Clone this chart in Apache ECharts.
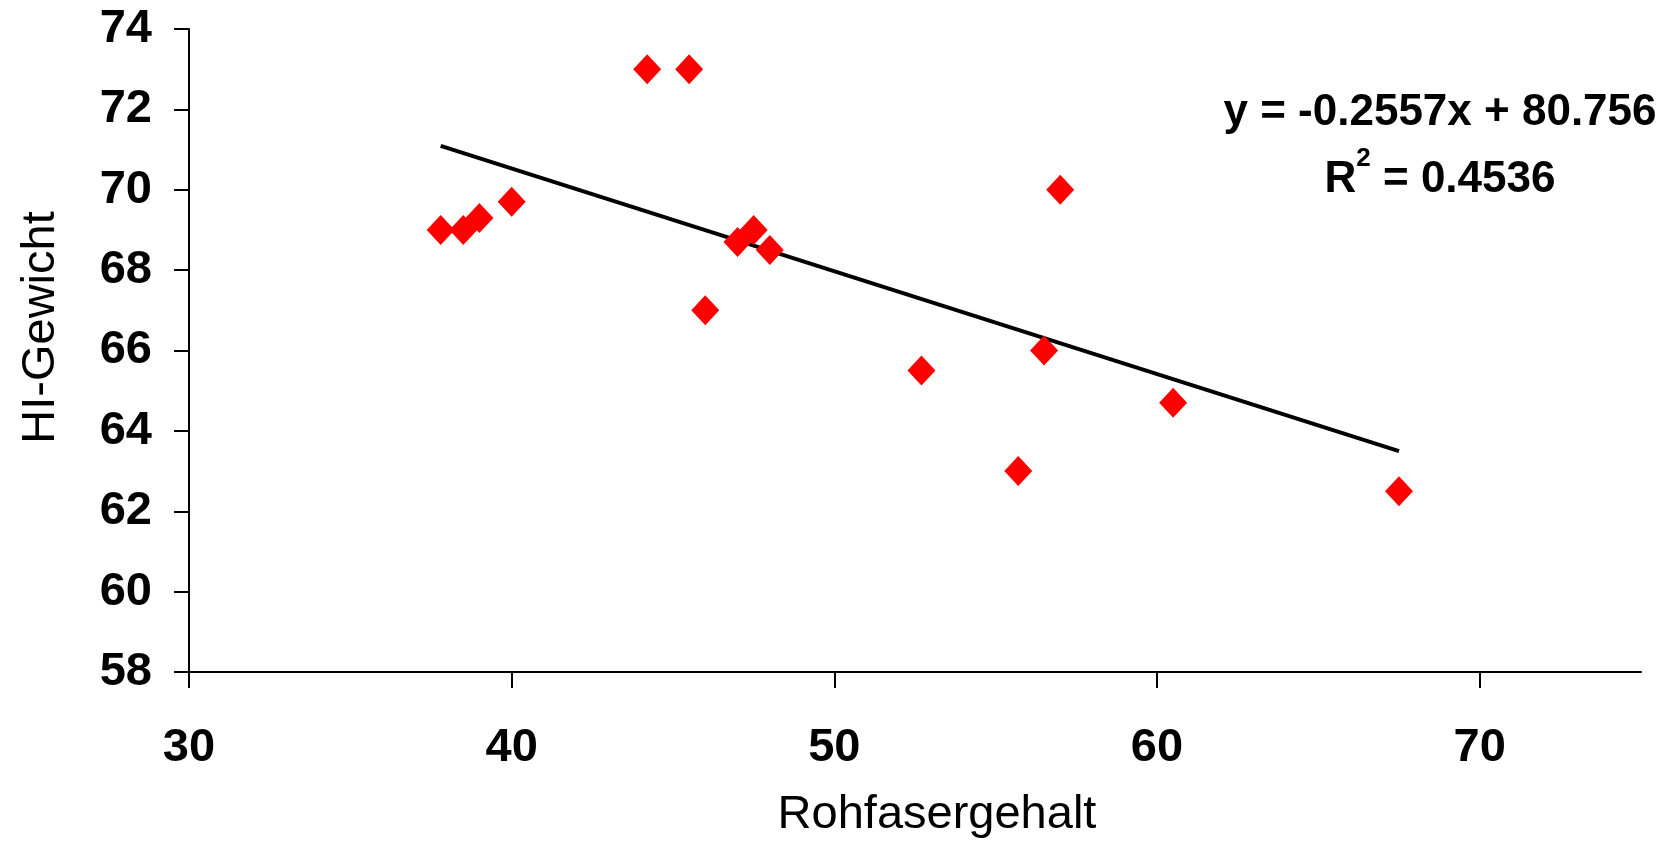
<!DOCTYPE html>
<html>
<head>
<meta charset="utf-8">
<title>HI-Gewicht vs Rohfasergehalt</title>
<script src="https://cdn.jsdelivr.net/npm/echarts@6/dist/echarts.min.js"></script>
<style>
  html, body { margin: 0; padding: 0; background: #fff; }
  #chart { width: 1662px; height: 845px; }
</style>
</head>
<body>
<div id="chart"></div>
<script>
// Rohfasergehalt (x) und HI-Gewicht (y)
var rohfaser = [37.8, 38.5, 39.0, 40.0, 44.2, 45.5, 46.0, 47.0, 47.5, 48.0, 52.7, 55.7, 56.5, 57.0, 60.5, 67.5];
var hiGewicht = [69.0, 69.0, 69.3, 69.7, 73.0, 73.0, 67.0, 68.7, 69.0, 68.5, 65.5, 63.0, 66.0, 70.0, 64.7, 62.5];
var xTicks = [30, 40, 50, 60, 70];

// Trendlinie aus der Gleichung im Bild
var slope = -0.2557;
var intercept = 80.756;
var r2 = 0.4536;

var xMin = Math.min.apply(null, rohfaser);
var xMax = Math.max.apply(null, rohfaser);
var trend = [[xMin, slope * xMin + intercept], [xMax, slope * xMax + intercept]];

var points = rohfaser.map(function (x, i) { return [x, hiGewicht[i]]; });

var tickFont = {
  fontFamily: '"Liberation Sans Narrow", "Liberation Sans", Arial, sans-serif',
  fontWeight: 'bold',
  fontSize: 47,
  color: '#000'
};

var chart = echarts.init(document.getElementById('chart'));
chart.setOption({
  backgroundColor: '#fff',
  animation: false,
  title: {
    left: 1435,
    top: 74,
    textAlign: 'center',
    text: '{a|y = ' + slope + 'x + ' + intercept + '}\n{a|R}{sup|2}{a| = ' + r2 + '}',
    textStyle: {
      rich: {
        a: { fontFamily: '"Liberation Sans", Arial, sans-serif', fontWeight: 'bold', fontSize: 44, color: '#000', lineHeight: 67 },
        sup: { fontFamily: '"Liberation Sans", Arial, sans-serif', fontWeight: 'bold', fontSize: 26, color: '#000', verticalAlign: 'top', lineHeight: 67, padding: [0, 0, 22, 0] }
      }
    }
  },
  grid: { left: 189, right: 21, top: 29, bottom: 173, outerBoundsMode: 'none' },
  xAxis: {
    type: 'value',
    min: 30,
    max: 75,
    interval: 10,
    name: 'Rohfasergehalt',
    nameLocation: 'middle',
    nameGap: 120,
    nameTextStyle: { fontFamily: '"Liberation Sans", Arial, sans-serif', fontSize: 47, color: '#000', padding: [0, 0, 0, 44] },
    axisLine: { lineStyle: { color: '#000', width: 2 } },
    axisTick: { show: true, length: 16, customValues: xTicks, lineStyle: { color: '#000', width: 2 } },
    axisLabel: Object.assign({ margin: 53, customValues: xTicks }, tickFont),
    splitLine: { show: false }
  },
  yAxis: {
    type: 'value',
    min: 58,
    max: 74,
    interval: 2,
    name: 'HI-Gewicht',
    nameLocation: 'middle',
    nameGap: 124,
    nameTextStyle: { fontFamily: '"Liberation Sans", Arial, sans-serif', fontSize: 47, color: '#000', padding: [0, 0, 0, 46] },
    axisLine: { show: true, lineStyle: { color: '#000', width: 2 } },
    axisTick: { show: true, length: 15, lineStyle: { color: '#000', width: 2 } },
    axisLabel: Object.assign({ margin: 37 }, tickFont),
    splitLine: { show: false }
  },
  series: [
    {
      name: 'Trend',
      type: 'line',
      data: trend,
      symbol: 'none',
      lineStyle: { color: '#000', width: 4 },
      z: 2
    },
    {
      name: 'HI-Gewicht',
      type: 'scatter',
      data: points,
      symbol: 'diamond',
      symbolSize: [28, 30],
      itemStyle: { color: '#ff0000', opacity: 1 },
      z: 3
    }
  ]
});
</script>
</body>
</html>
